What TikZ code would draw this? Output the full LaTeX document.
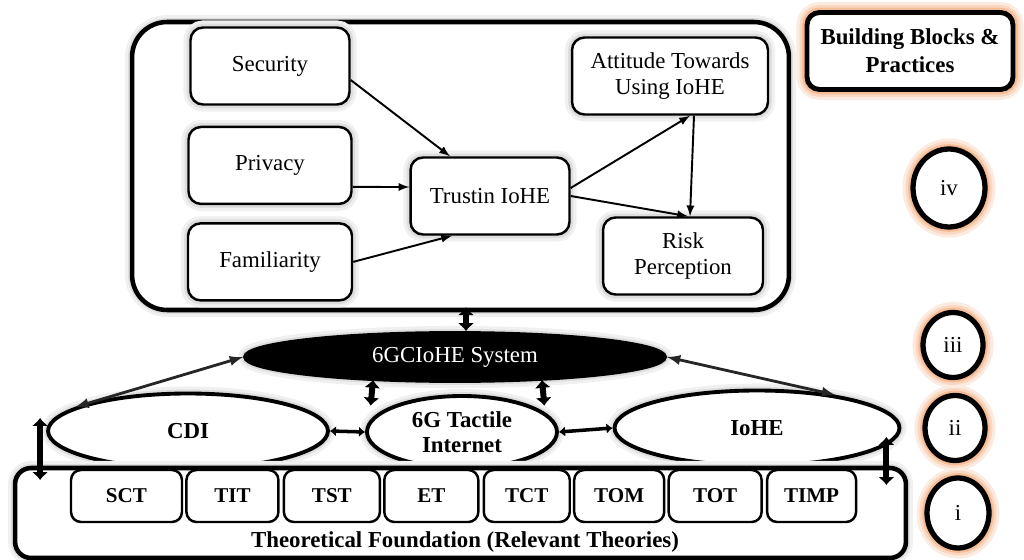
\documentclass[tikz,border=0pt]{standalone}
\usepackage{fontspec}
\setmainfont{Liberation Serif}
\usetikzlibrary{shapes.geometric,positioning,arrows.meta}
\definecolor{peach}{RGB}{244,176,132}
\tikzset{
    halo/.style={preaction={draw=black!6,line width=8pt},preaction={draw=black!13,line width=4.5pt}},
    glow/.style={preaction={draw=peach!25,line width=12pt},preaction={draw=peach!50,line width=8.5pt},
        preaction={draw=peach!85,line width=5.5pt}},
    frame/.style={rectangle,draw,line width=2.6pt,fill=white,rounded corners=0.7cm,halo},
    box/.style={rectangle,draw,line width=1.4pt,fill=white,rounded corners=0.25cm,halo,
        minimum width=3.18cm,minimum height=1.54cm,align=center,font=\fontsize{13}{15}\selectfont},
    theory/.style={rectangle,draw,line width=1.4pt,fill=white,rounded corners=0.2cm,
        minimum height=1.04cm,font=\bfseries\fontsize{12}{14}\selectfont},
    oval/.style={ellipse,draw,line width=2.2pt,fill=white,inner sep=0pt,halo,
        align=center,font=\bfseries\fontsize{13}{14}\selectfont},
    panel/.style={rectangle,draw,line width=2.8pt,fill=white,rounded corners=0.25cm,glow,
        minimum width=4.12cm,minimum height=1.54cm,align=center,font=\bfseries\fontsize{13}{16}\selectfont},
    stage/.style={ellipse,draw,line width=3pt,fill=white,glow,
        minimum width=1.2cm,minimum height=1.3cm,font=\fontsize{13}{15}\selectfont},
    flow/.style={->,line width=1.1pt},
    link/.style={<->,line width=1.6pt,draw=black!85},
    sidelink/.style={<->,line width=2pt,>={Latex[length=3.5pt,width=6pt]}},
    dblarrow/.style={<->,line width=3.4pt,>={Latex[length=4.5pt,width=9.5pt]}}
}
\begin{document}
\begin{tikzpicture}[
                            x=0.02cm,y=-0.02cm,
                            >=latex
                        ]
                        \useasboundingbox (0,0) rectangle (1024,560);
                        % Blocks
                        \node [frame,minimum width=13.14cm,minimum height=5.76cm] (top) at (460.5,166) {};
                        \node [box] (sec) at (270,66) {Security};
                        \node [box,minimum width=3.26cm,below=0.4cm of sec] (priv) {Privacy};
                        \node [box,minimum width=3.28cm,below=0.34cm of priv] (fam) {Familiarity};
                        \node [box] (trust) at (490,196) {Trustin IoHE};
                        \node [box,minimum width=3.92cm] (att) at (670,76) {Attitude Towards\\Using IoHE};
                        \node [box,minimum width=3.2cm] (risk) at (683,256) {Risk\\Perception};

                        \node [oval,fill=black,text=white,font=\fontsize{13}{15}\selectfont,
                            minimum width=8.4cm,minimum height=0.96cm] (sys) at (455,357) {6GCIoHE System};
                        \node [oval,minimum width=5.6cm,minimum height=1.5cm] (cdi) at (188,431) {CDI};
                        \node [oval,minimum width=3.8cm,minimum height=1.44cm] (tact) at (462,432) {6G Tactile\\Internet};
                        \node [oval,minimum width=5.7cm,minimum height=1.5cm] (iohe) at (757,428) {IoHE};

                        \node [frame,rounded corners=0.32cm,minimum width=17.82cm,minimum height=1.8cm] (found) at (460.5,513) {};
                        \node [theory,minimum width=2.22cm] (sct) at (126.5,496) {SCT};
                        \node [theory,minimum width=1.84cm,right=0.04cm of sct] (tit) {TIT};
                        \node [theory,minimum width=1.92cm,right=0.06cm of tit] (tst) {TST};
                        \node [theory,minimum width=1.88cm,right=0.04cm of tst] (et) {ET};
                        \node [theory,minimum width=1.72cm,right=0.06cm of et] (tct) {TCT};
                        \node [theory,minimum width=1.8cm,right=0.04cm of tct] (tom) {TOM};
                        \node [theory,minimum width=1.86cm,right=0.04cm of tom] (tot) {TOT};
                        \node [theory,minimum width=1.78cm,right=0.06cm of tot] (timp) {TIMP};
                        \node [font=\bfseries\fontsize{13}{15}\selectfont] (foundlbl) at (465,542) {Theoretical Foundation (Relevant Theories)};

                        \node [panel] (blocks) at (910,51) {Building Blocks \&\\Practices};
                        \node [stage,minimum width=1.44cm,minimum height=1.56cm] (siv) at (949,188) {iv};
                        \node [stage] (siii) at (953,345) {iii};
                        \node [stage] (sii) at (955,428) {ii};
                        \node [stage,minimum width=1.24cm,minimum height=1.4cm] (si) at (958,513) {i};

                        % Connections
                        \draw [flow] ([yshift=-0.28cm]sec.east) -- ([xshift=-0.8cm]trust.north);
                        \draw [flow] ([yshift=-0.43cm]priv.east) -- ([yshift=0.18cm]trust.west);
                        \draw [flow] (fam.east) -- ([xshift=-0.76cm]trust.south);
                        \draw [flow] ([yshift=0.16cm]trust.east) -- ([xshift=0.4cm]att.south);
                        \draw [flow] (trust.east) -- ([xshift=0.1cm]risk.north);
                        \draw [flow] ([xshift=0.48cm]att.south) -- ([xshift=0.14cm]risk.north);

                        \draw [dblarrow] ([xshift=0.11cm,yshift=0.1cm]top.south) -- ([xshift=0.22cm]sys.north);
                        \draw [link] (sys.west) -- (cdi.168);
                        \draw [link] (sys.east) -- (iohe.23);
                        \draw [dblarrow] ([xshift=-1.64cm,yshift=0.06cm]sys.south) -- ([xshift=-0.74cm,yshift=-0.1cm]tact.150);
                        \draw [dblarrow] ([xshift=1.74cm,yshift=0.06cm]sys.south) -- ([xshift=0.56cm,yshift=-0.1cm]tact.30);
                        \draw [sidelink] (cdi.east) -- (tact.west);
                        \draw [sidelink] (tact.east) -- (iohe.west);
                        \draw [dblarrow] ([xshift=-0.12cm,yshift=0.26cm]cdi.west) -- ([xshift=-0.12cm,yshift=-0.98cm]cdi.west);
                        \draw [dblarrow] ([xshift=-0.3cm,yshift=-0.18cm]iohe.east) -- ([xshift=-0.3cm,yshift=-1.14cm]iohe.east);
                    \end{tikzpicture}
\end{document}
